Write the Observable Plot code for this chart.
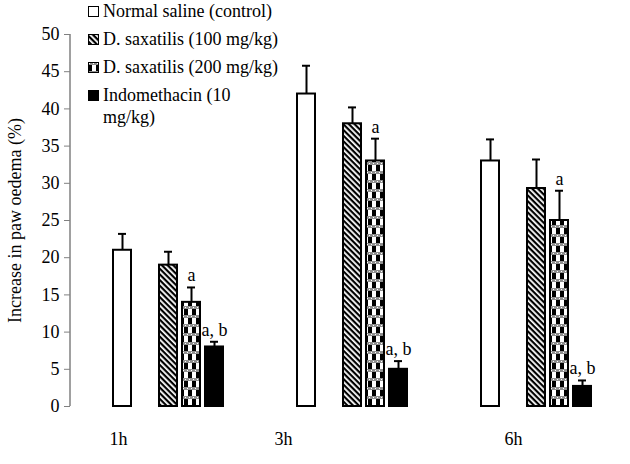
<!DOCTYPE html>
<html>
<head>
<meta charset="utf-8">
<script src="https://cdn.jsdelivr.net/npm/d3@7"></script>
<script src="https://cdn.jsdelivr.net/npm/@observablehq/plot@0.6"></script>
<style>
  html, body { margin: 0; padding: 0; background: white; }
  #wrap { position: relative; width: 630px; height: 464px; font-family: "Liberation Serif", "Tinos", "DejaVu Serif", serif; }
  #legend { position: absolute; left: 88px; top: 0px; font-size: 18px; color: black; font-family: "Liberation Serif", "Tinos", "DejaVu Serif", serif; }
  .item { display: flex; align-items: flex-start; height: 28px; line-height: 22px; }
  .item svg { margin-top: 6px; margin-right: 4px; flex: none; }
  svg text { font-family: "Liberation Serif", "Tinos", "DejaVu Serif", serif; }
</style>
</head>
<body>
<svg width="0" height="0" style="position:absolute">
  <defs>
    <pattern id="diag" width="4" height="4" patternUnits="userSpaceOnUse" patternTransform="rotate(-45)">
      <rect width="4" height="4" fill="black"></rect>
      <rect x="0" y="0" width="1.8" height="4" fill="white"></rect>
    </pattern>
    <pattern id="check" width="8" height="18" patternUnits="userSpaceOnUse">
      <rect width="8" height="18" fill="white"></rect>
      <rect x="0" y="3" width="4" height="6" fill="black"></rect>
      <rect x="4" y="12" width="4" height="6" fill="black"></rect>
      <rect x="0" y="0" width="8" height="3" fill="#8f8f8f"></rect>
      <rect x="0" y="9" width="8" height="3" fill="#8f8f8f"></rect>
      <rect x="1" y="1" width="1" height="1" fill="white"></rect>
      <rect x="5" y="1" width="1" height="1" fill="white"></rect>
      <rect x="3" y="10" width="1" height="1" fill="white"></rect>
      <rect x="7" y="10" width="1" height="1" fill="white"></rect>
    </pattern>
  </defs>
</svg>
<div id="wrap"><div id="legend"></div></div>
<script>
const times = ["1h", "3h", "6h"];
const seriesKeys = ["control", "d100", "d200", "indo"];
const seriesNames = ["Normal saline (control)", "D. saxatilis (100 mg/kg)", "D. saxatilis (200 mg/kg)", "Indomethacin (10 mg/kg)"];
const controlMean = [21, 42, 33];
const controlSD = [2.2, 3.8, 2.9];
const d100Mean = [19, 38, 29.3];
const d100SD = [1.8, 2.2, 3.9];
const d200Mean = [14, 33, 25];
const d200SD = [2.0, 3.0, 4.0];
const indoMean = [8, 5, 2.7];
const indoSD = [0.7, 1.1, 0.8];
const d200Sig = ["a", "a", "a"];
const indoSig = ["a, b", "a, b", "a, b"];
const yTicks = [0, 5, 10, 15, 20, 25, 30, 35, 40, 45, 50];

const fills = {control: "white", d100: "url(#diag)", d200: "url(#check)", indo: "black"};
const means = {control: controlMean, d100: d100Mean, d200: d200Mean, indo: indoMean};
const sds = {control: controlSD, d100: d100SD, d200: d200SD, indo: indoSD};
const sigs = {control: ["", "", ""], d100: ["", "", ""], d200: d200Sig, indo: indoSig};

// x slots: control, empty gap, three treatment bars, then spacer slots between groups
const domain = [];
times.forEach((t, i) => {
  domain.push(t + "|control", t + "|gap", t + "|d100", t + "|d200", t + "|indo");
  if (i < times.length - 1) domain.push(t + "|s1", t + "|s2", t + "|s3");
});

const rows = [];
times.forEach((t, i) => {
  seriesKeys.forEach(s => {
    rows.push({time: t, series: s, key: t + "|" + s, mean: means[s][i], sd: sds[s][i], top: means[s][i] + sds[s][i], sig: sigs[s][i], fill: fills[s]});
  });
});

const groupLabel = (t, dx) => Plot.text([t], {x: d => d + "|control", frameAnchor: "bottom", text: d => d, dy: 38, dx, fontSize: 18});

const plot = Plot.plot({
  width: 630,
  height: 464,
  marginLeft: 70,
  marginRight: 0,
  marginTop: 34,
  marginBottom: 58,
  style: {fontFamily: "'Liberation Serif', Tinos, 'DejaVu Serif', serif", fontSize: "18px", color: "black", background: "white"},
  x: {domain, axis: null, paddingInner: 0.22, paddingOuter: 1.75, align: 0.52},
  y: {domain: [0, 50]},
  color: {type: "identity"},
  marks: [
    Plot.axisY({ticks: yTicks, tickSize: 6, tickPadding: 5, stroke: "#808080", fill: "black", fontSize: 18,
      label: "Increase in paw oedema (%)", labelAnchor: "center", labelOffset: 62, labelArrow: "none"}),
    Plot.ruleX(rows, {x: "key", y1: "mean", y2: "top", stroke: "black", strokeWidth: 2}),
    Plot.tickY(rows, {x: "key", y: "top", stroke: "black", strokeWidth: 2, insetLeft: 5, insetRight: 5}),
    Plot.barY(rows, {x: "key", y: "mean", fill: "fill", stroke: "black", strokeWidth: 2}),
    Plot.text(rows, {x: "key", y: "top", text: "sig", lineAnchor: "bottom", dy: -6, fontSize: 18}),
    groupLabel("1h", -4),
    groupLabel("3h", -23),
    groupLabel("6h", 23)
  ]
});

// y-axis line through the library's y scale
const ys = plot.scale("y");
d3.select(plot).append("line")
  .attr("x1", 70).attr("x2", 70)
  .attr("y1", ys.apply(0)).attr("y2", ys.apply(50))
  .attr("stroke", "#808080").attr("stroke-width", 1.5);

document.getElementById("wrap").prepend(plot);

// legend
const legend = d3.select("#legend");
seriesKeys.forEach((s, i) => {
  const item = legend.append("div").attr("class", "item");
  const sw = item.append("svg").attr("width", 11).attr("height", 11);
  sw.append("rect").attr("x", 0.5).attr("y", 0.5).attr("width", 10).attr("height", 10)
    .attr("fill", fills[s]).attr("stroke", "black").attr("stroke-width", 1);
  const span = item.append("span").text(seriesNames[i]);
  if (s === "indo") span.style("width", "140px").style("display", "inline-block");
});
</script>
</body>
</html>
